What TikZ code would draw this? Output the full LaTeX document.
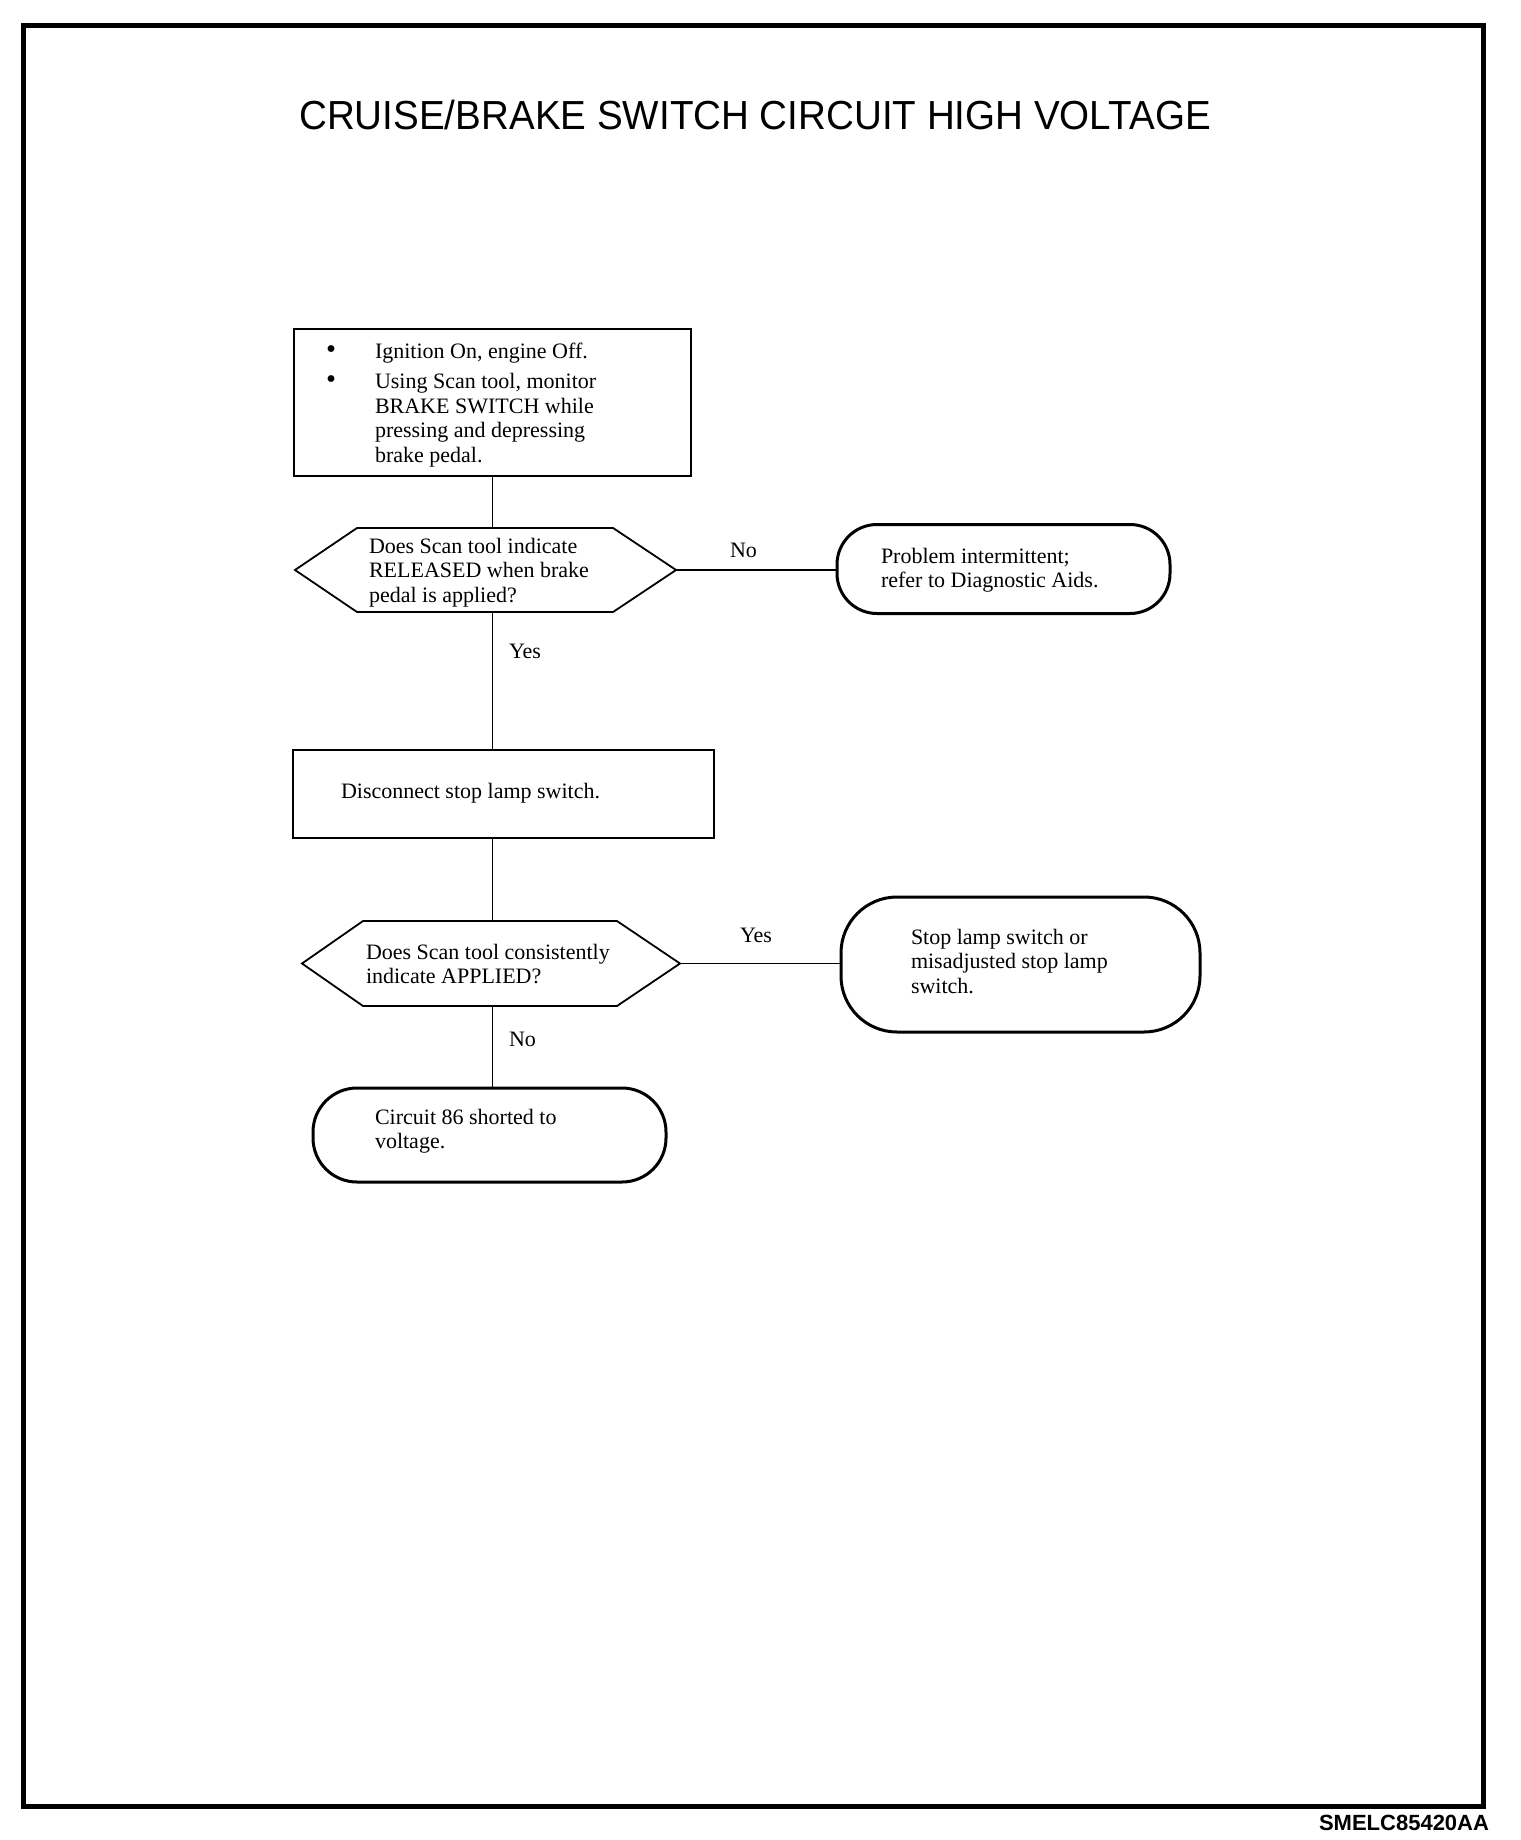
\documentclass[tikz,border=0pt]{standalone}
\usepackage{fontspec}
\setmainfont{Liberation Serif}
\newfontfamily\titlefont{Liberation Sans}
\begin{document}
\begin{tikzpicture}[x=0.5pt,y=-0.5pt,
  every node/.style={inner sep=0pt, outer sep=0pt},
  txt/.style={font=\fontsize{11}{12.3}\selectfont, anchor=base west},
  procbox/.style={draw, line width=1pt},
  termbox/.style={draw, line width=1.5pt},
  hexline/.style={line width=0.9pt, line join=miter},
  conn/.style={line width=0.8pt}]
\useasboundingbox (0,0) rectangle (1520,1840);
\draw[line width=2.5pt] (23,26) rectangle (1483,1806);

% title and footer
\node[font=\titlefont\fontsize{20.3}{24}\selectfont] (title) at (755,115) {\scalebox{0.95}[1]{CRUISE/BRAKE SWITCH CIRCUIT HIGH VOLTAGE}};
\node[font=\titlefont\bfseries\fontsize{11}{13}\selectfont, anchor=base east] (code) at (1489,1830) {SMELC85420AA};

% shapes
\node[procbox, minimum width=198.5pt, minimum height=73.5pt] (box1) at (492.5,402.5) {};
\node[minimum width=190.5pt, minimum height=42pt] (d1) at (485.5,570) {};
\draw[hexline] (d1.west) -- ([xshift=31pt]d1.north west) -- ([xshift=-31.5pt]d1.north east) -- (d1.east) -- ([xshift=-31.5pt]d1.south east) -- ([xshift=31pt]d1.south west) -- cycle;
\node[termbox, rounded corners=20pt, minimum width=166.5pt, minimum height=44.5pt] (t1) at (1003.5,569) {};
\node[procbox, minimum width=210.5pt, minimum height=44pt] (box2) at (503.5,794) {};
\node[minimum width=189pt, minimum height=42.5pt] (d2) at (491,963.5) {};
\draw[hexline] (d2.west) -- ([xshift=30.5pt]d2.north west) -- ([xshift=-31.5pt]d2.north east) -- (d2.east) -- ([xshift=-31.5pt]d2.south east) -- ([xshift=30.5pt]d2.south west) -- cycle;
\node[termbox, rounded corners=28pt, minimum width=179.5pt, minimum height=67.5pt] (t2) at (1020.5,964.5) {};
\node[termbox, rounded corners=22pt, minimum width=176.5pt, minimum height=47pt] (t3) at (489.5,1135) {};

% connectors
\draw[conn] (box1.south) -- (box1.south |- d1.north);
\draw[conn] (box1.south |- d1.south) -- (box1.south |- box2.north);
\draw[conn] (d1.east) -- (d1.east -| t1.west);
\draw[conn] (box1.south |- box2.south) -- (box1.south |- d2.north);
\draw[conn] (d2.east) -- (d2.east -| t2.west);
\draw[conn] (box1.south |- d2.south) -- (box1.south |- t3.north);

% texts
\node[txt] (box1t) at (326,358) {\begin{tabular}[t]{@{}p{24.5pt}@{}l@{}}
\scalebox{1.3}{\textbullet} & Ignition On, engine Off.\\[3pt]
\scalebox{1.3}{\textbullet} & Using Scan tool, monitor\\
 & BRAKE SWITCH while\\
 & pressing and depressing\\
 & brake pedal.
\end{tabular}};
\node[txt] (d1t) at (369,553) {\begin{tabular}[t]{@{}l@{}}
Does Scan tool indicate\\
RELEASED when brake\\
pedal is applied?
\end{tabular}};
\node[txt] (t1t) at (881,563) {\begin{tabular}[t]{@{}l@{}}
Problem intermittent;\\
refer to Diagnostic Aids.
\end{tabular}};
\node[txt] (box2t) at (341,798) {Disconnect stop lamp switch.};
\node[txt] (d2t) at (366,959) {\begin{tabular}[t]{@{}l@{}}
Does Scan tool consistently\\
indicate APPLIED?
\end{tabular}};
\node[txt] (t2t) at (911,944) {\begin{tabular}[t]{@{}l@{}}
Stop lamp switch or\\
misadjusted stop lamp\\
switch.
\end{tabular}};
\node[txt] (t3t) at (375,1124) {\begin{tabular}[t]{@{}l@{}}
Circuit 86 shorted to\\
voltage.
\end{tabular}};

% labels
\node[txt] (no1) at (730,557) {No};
\node[txt] (yes1) at (509,658) {Yes};
\node[txt] (yes2) at (740,942) {Yes};
\node[txt] (no2) at (509,1046) {No};
\end{tikzpicture}
\end{document}
